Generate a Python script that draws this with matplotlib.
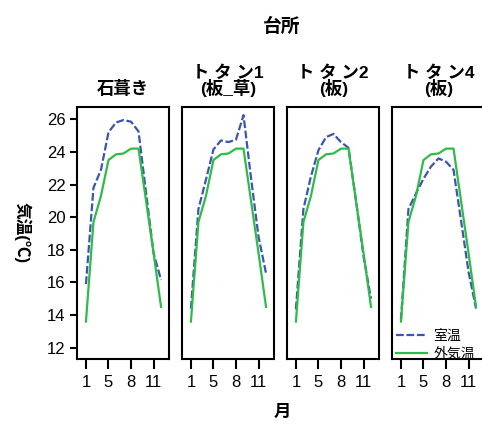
import matplotlib.pyplot as plt

plt.rcParams['font.family'] = ['Liberation Sans', 'Noto Sans CJK JP', 'DejaVu Sans']

# months measured (no February)
months = [1, 3, 4, 5, 6, 7, 8, 9, 10, 11, 12]
tick_months = [1, 5, 8, 11]

panel_titles = ['石葺き', 'ト タ ン1\n(板_草)', 'ト タ ン2\n(板)', 'ト タ ン4\n(板)']

outdoor = [13.6, 19.7, 21.3, 23.5, 23.85, 23.9, 24.2, 24.2, 21.0, 17.8, 14.5]
indoor = [
    [15.9, 21.8, 22.9, 25.2, 25.8, 25.95, 25.85, 25.25, 21.5, 17.8, 16.15],
    [14.4, 20.5, 22.3, 24.15, 24.7, 24.6, 24.75, 26.25, 22.4, 18.8, 16.55],
    [14.35, 20.5, 22.5, 24.1, 24.9, 25.1, 24.6, 24.25, 21.0, 17.6, 15.0],
    [13.7, 20.5, 21.45, 22.35, 23.1, 23.6, 23.4, 22.9, 19.8, 16.65, 14.4],
]

blue = '#3b55b0'
green = '#2fbb48'

fig = plt.figure(figsize=(4.82, 4.26), dpi=100)
lefts = [0.1604, 0.3782, 0.596, 0.8139]
x = list(range(len(months)))
tick_pos = [months.index(m) for m in tick_months]

for i, left in enumerate(lefts):
    ax = fig.add_axes([left, 0.1566, 0.1909, 0.593])
    ax.plot(x, indoor[i], color=blue, lw=1.6, ls=(0, (3.5, 1.2)), label='室温')
    ax.plot(x, outdoor, color=green, lw=1.6, label='外気温')
    ax.set_xlim(-1.15, 11.1)
    ax.set_ylim(11.29, 26.77)
    ax.set_xticks(tick_pos)
    ax.set_xticklabels([str(m) for m in tick_months], fontsize=12)
    ax.tick_params(axis='x', length=7, width=1.5, direction='out', pad=4)
    ax.tick_params(axis='y', length=5, width=1.5, direction='out', labelsize=12)
    ax.set_yticks(range(12, 27, 2))
    if i > 0:
        ax.tick_params(axis='y', left=False, labelleft=False)
    for s in ax.spines.values():
        s.set_linewidth(1.5)
    ax.set_title(panel_titles[i], fontsize=12.5, fontweight='bold',
                 linespacing=0.9, pad=9)
    if i == 0:
        ax.set_ylabel('気温(℃)', fontsize=12, fontweight='bold',
                      rotation=270, labelpad=24)
    if i == 3:
        ax.legend(loc='lower left', bbox_to_anchor=(-0.02, -0.03), frameon=False,
                  fontsize=10, handlelength=2.2, handletextpad=0.5,
                  labelspacing=0.3, borderpad=0.2, borderaxespad=0.2)

fig.text(0.585, 0.937, '台所', ha='center', va='center', fontsize=13.5, fontweight='bold')
fig.text(0.585, 0.033, '月', ha='center', va='center', fontsize=12.5, fontweight='bold')

fig.savefig('out.png', dpi=100)
